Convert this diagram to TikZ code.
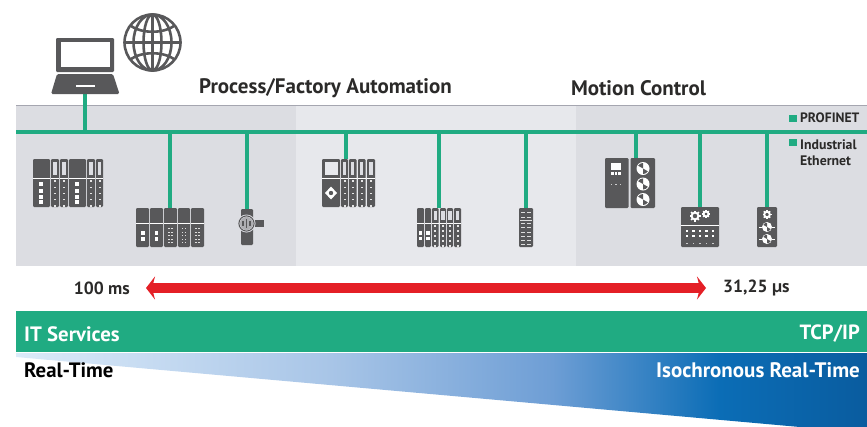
\documentclass[tikz,border=0pt]{standalone}
\usepackage{fontspec}
\setmainfont{PT Sans}
\usetikzlibrary{arrows.meta,calc}
\definecolor{bandA}{HTML}{DCDDE2}
\definecolor{bandB}{HTML}{E7E8EC}
\definecolor{edgeC}{HTML}{A5A6B0}
\definecolor{busC}{HTML}{20AB82}
\definecolor{devC}{HTML}{58585A}
\definecolor{arrC}{HTML}{E41F26}
\definecolor{txtC}{HTML}{2B2A29}
\definecolor{g1}{HTML}{DCEBF9}
\definecolor{g2}{HTML}{A8C5E7}
\definecolor{g3}{HTML}{6E9ED5}
\definecolor{g4}{HTML}{0B6DB6}
\definecolor{g5}{HTML}{0A5C9F}
\pgfdeclarehorizontalshading{wedgeshade}{100bp}{color(0bp)=(g1);color(25bp)=(g1);color(43.5bp)=(g2);color(56.5bp)=(g3);color(66.3bp)=(g4);color(75bp)=(g5);color(100bp)=(g5)}
\tikzset{
  bus/.style={draw=busC,line width=3.6pt},
  link/.style={draw=busC,line width=3.2pt},
  devbox/.style={inner sep=0pt,outer sep=0pt,rectangle},
  mod/.style={fill=devC,rounded corners=1.2pt},
  lab/.style={font=\bfseries,text=txtC,inner sep=0pt},
  wlab/.style={font=\bfseries,text=white,inner sep=0pt},
  legend/.style={fill=busC,inner sep=0pt,minimum size=7.5pt},
}
% module with a solid top and a separator
\newcommand{\plainmod}[5]{%
  \fill[mod] (#1,#3) rectangle (#2,#5);
  \draw[white,line width=.6pt] (#1,#4) -- (#2,#4);}
% narrow module: slot on top, dots below
\newcommand{\slotmod}[5]{%
  \plainmod{#1}{#2}{#3}{#4}{#5}
  \pgfmathsetmacro{\cxx}{(#1+#2)/2}
  \pgfmathsetmacro{\dyy}{(#5-#4-4)/4}
  \fill[bandA] (\cxx-1.6,#3+3) rectangle (\cxx+1.6,#4-3);
  \foreach \i in {0,...,4} {\fill[white!85!devC] (\cxx-1,#4+3+\i*\dyy-.7) rectangle (\cxx+1,#4+3+\i*\dyy+.7);}}
\newcommand{\wsq}[3]{\fill[white] (#1-#3,#2-#3) rectangle (#1+#3,#2+#3);}
\newcommand{\motorsym}[3]{%
  \fill[white] (#1,#2) circle (#3);
  \fill[devC] (#1,#2) -- ++(30:#3*.85) arc (30:90:#3*.85) -- cycle;
  \fill[devC] (#1,#2) -- ++(210:#3*.85) arc (210:270:#3*.85) -- cycle;}
\newcommand{\gearsym}[3]{%
  \foreach \a in {0,45,...,315} {\draw[white,line width=1.5pt] (#1,#2) ++(\a:#3*.6) -- ++(\a:#3*.4);}
  \draw[white,line width=1.9pt] (#1,#2) circle (#3*.62);}
\begin{document}
\begin{tikzpicture}[x=1pt,y=-1pt]
\useasboundingbox (0,0) rectangle (867,426);
% bands
\fill[bandA] (16,105) rectangle (296,266);
\fill[bandB] (296,105) rectangle (576,266);
\fill[bandA] (576,105) rectangle (867,266);
\draw[edgeC,line width=1pt] (16,105.5) -- (867,105.5);
% bus
\coordinate (busL) at (16,132);
\coordinate (busR) at (867,132);
\draw[bus] (busL) -- (busR);
% device anchors
\node[devbox,minimum width=68pt,minimum height=22pt] (laptop) at (85,83) {};
\node[devbox,minimum width=70pt,minimum height=48pt] (dev1) at (68,183) {};
\node[devbox,minimum width=68pt,minimum height=39pt] (dev2) at (170,227.5) {};
\node[devbox,minimum width=12pt,minimum height=36pt] (dev3) at (247,227) {};
\node[devbox,minimum width=53pt,minimum height=48pt] (dev4) at (348.5,183) {};
\node[devbox,minimum width=44pt,minimum height=39pt] (dev5) at (439,227.5) {};
\node[devbox,minimum width=14pt,minimum height=39pt] (dev6) at (526,227.5) {};
\node[devbox,minimum width=50pt,minimum height=50pt] (dev7) at (630,183) {};
\node[devbox,minimum width=38pt,minimum height=40pt] (dev8) at (700,227) {};
\node[devbox,minimum width=20pt,minimum height=40pt] (dev9) at (767,227) {};
% taps and links
\coordinate (ta) at (85,132);
\coordinate (tb) at (170,132);
\coordinate (tc) at (247,132);
\coordinate (td) at (346,132);
\coordinate (te) at (439,132);
\coordinate (tf) at (526,132);
\coordinate (tg) at (636,132);
\coordinate (th) at (700,132);
\coordinate (ti) at (767,132);
\draw[link] (ta) -- (ta |- laptop.south);
\draw[link] (tb) -- (tb |- dev2.north);
\draw[link] (tc) -- (tc |- dev3.north);
\draw[link] (td) -- (td |- dev4.north);
\draw[link] (te) -- (te |- dev5.north);
\draw[link] (tf) -- (tf |- dev6.north);
\draw[link] (tg) -- (tg |- dev7.north);
\draw[link] (th) -- (th |- dev8.north);
\draw[link] (ti) -- (ti |- dev9.north);
% laptop
\fill[devC,rounded corners=1.2pt] (56,38) rectangle (114,72);
\fill[white] (61,42) rectangle (110,67);
\fill[devC,rounded corners=1.5pt] (57,74) -- (113,74) -- (119.5,94) -- (51,94) -- cycle;
\fill[white] (76,85.2) rectangle (95,87.2);
% globe
\begin{scope}[devC,line width=2.6pt]
\draw (152.5,42.5) circle (28);
\draw (152.5,14.5) -- (152.5,70.5);
\draw (124.5,42.5) -- (180.5,42.5);
\draw (152.5,42.5) ellipse (9 and 28);
\draw (152.5,42.5) ellipse (19 and 28);
\draw (130,25) .. controls (140,34) and (165,34) .. (175,25);
\draw (130,60) .. controls (140,51) and (165,51) .. (175,60);
\end{scope}
% dev1
\foreach \a/\b in {33/50,69/86}{
  \plainmod{\a}{\b}{159}{178}{207}
  \pgfmathsetmacro{\mx}{(\a+\b)/2}
  \foreach \yy in {184,190.5,196.5,202} {\wsq{\mx-.5}{\yy}{2}}
}
\foreach \a/\b in {51/59,60/68,87/95,96/103} {\slotmod{\a}{\b}{159}{178}{207}}
% dev2
\foreach \a/\b in {136/149,150/163,164/177,178/190,191/204} {\plainmod{\a}{\b}{208}{223}{247}}
\foreach \x in {143,156.5}{\wsq{\x}{233}{1.7}\wsq{\x}{239}{1.7}}
\foreach \x in {170.5,184,197.5} {\foreach \i in {0,...,4}{
  \fill[white!80!devC] (\x-2.4,228+\i*3.6) rectangle (\x-.9,229+\i*3.6);
  \fill[white!80!devC] (\x+.9,228+\i*3.6) rectangle (\x+2.4,229+\i*3.6);}}
% dev3 sensor
\fill[mod] (241,209) rectangle (253,245);
\fill[devC] (253,220) rectangle (264,227);
\fill[bandA] (246.5,223.5) circle (9);
\draw[devC,line width=1pt] (246.5,223.5) circle (7.6);
\fill[devC!35!bandA] (246.5,223.5) circle (6.6);
\fill[devC] (245.6,219) rectangle (247.4,228);
\fill[devC] (242,220.5) rectangle (244.4,226);
\fill[devC] (248.6,220.5) rectangle (251,226);
% dev4
\plainmod{322}{340}{159}{178}{207}
\fill[bandB] (325,162) rectangle (337.5,175);
\fill[white] (331,186.5) -- (337,193) -- (331,199.5) -- (325,193) -- cycle;
\fill[devC] (331,193) circle (2.2);
\foreach \a/\b in {341/348,349/356.5,358/365.5,367/375} {\slotmod{\a}{\b}{159}{178}{207}}
% dev5
\foreach \a/\b in {417/424,425/431} {\plainmod{\a}{\b}{208}{223}{247}}
\foreach \x in {420.5,428}{\wsq{\x}{233}{1.7}\wsq{\x}{238.5}{1.7}}
\foreach \a/\b in {432/438.5,440/446,447/453,454/461} {\slotmod{\a}{\b}{208}{223}{247}}
% dev6
\fill[mod] (519,208) rectangle (533,247);
\foreach \y in {212,216.5,223,227,232,236,240,243.5}{
  \fill[white!80!devC] (521,\y) rectangle (525,\y+1.2);
  \fill[white!80!devC] (527,\y) rectangle (531,\y+1.2);}
\draw[white!80!devC,line width=.5pt] (520,220.5) -- (532,220.5);
% dev7
\fill[mod] (605,158) rectangle (628.5,208);
\fill[mod] (630.5,158) rectangle (655,208);
\fill[white] (611,163) rectangle (621,170);
\foreach \x in {612.5,616,619.5} {\wsq{\x}{173.5}{1.3}}
\foreach \x in {611.5,616,620.5} {\fill[white!70!devC] (\x-.7,183.5) rectangle (\x+.7,184.5);}
\foreach \y in {168.5,184,199.5} {\motorsym{643}{\y}{6.5}}
% dev8
\plainmod{681}{719}{207}{225}{247}
\gearsym{695}{216}{5.5}
\gearsym{706}{214}{4}
\foreach \x in {687,693.5,700,706.5,713}{\wsq{\x}{231}{1.4}\wsq{\x}{236}{1.4}
  \fill[white!70!devC] (\x-.6,242.5) rectangle (\x+.6,243.5);}
% dev9
\fill[mod] (757,207) rectangle (777,247);
\gearsym{767}{214.5}{4.5}
\foreach \y in {227,239}{\motorsym{767}{\y}{5}
  \draw[white,line width=.5pt] (759,\y) -- (762,\y) (772,\y) -- (775,\y);}
% titles
\node[lab,anchor=center] (title1) at (325.5,88.5) {\fontsize{21}{23}\selectfont Process/Factory Automation};
\node[lab,anchor=center] (title2) at (638.5,88.5) {\fontsize{21}{23}\selectfont Motion Control};
% legend
\node[legend] (sq1) at (793,118.5) {};
\node[legend] (sq2) at (793,142.5) {};
\node[lab,anchor=west] (lg1) at (800,118) {\fontsize{13.6}{15}\selectfont PROFINET};
\node[lab,anchor=west,align=left,font=\bfseries\fontsize{13.8}{15.5}\selectfont] (lg2) at (800,152.5) {Industrial\\Ethernet};
% red arrow
\node[lab,anchor=east] (ms) at (130,288) {\fontsize{17.6}{19}\selectfont 100 ms};
\node[lab,anchor=west] (us) at (723,288) {\fontsize{17.6}{19}\selectfont 31,25 µs};
\coordinate (arrL) at (146,288);
\coordinate (arrR) at (706,288);
\draw[arrC,line width=10pt,{Stealth[length=9pt,width=23pt,inset=3pt]}-{Stealth[length=9pt,width=23pt,inset=3pt]}] (arrL) -- (arrR);
% green band
\fill[busC] (16,311) rectangle (867,352);
\node[wlab,anchor=west] (its) at (24,334) {\fontsize{20.8}{22}\selectfont IT Services};
\node[wlab,anchor=east] (tcp) at (860,334) {\fontsize{20.6}{22}\selectfont TCP/IP};
% wedge
\begin{scope}
\clip (0,0) rectangle (867,426);
\shade[shading=wedgeshade] (16,353) -- (867,353) -- (867,433) -- (16,357) -- cycle;
\end{scope}
\node[lab,anchor=west,text=black] (rt) at (24,370) {\fontsize{20.8}{22}\selectfont Real-Time};
\node[wlab,anchor=east] (irt) at (860,370) {\fontsize{21}{22}\selectfont Isochronous Real-Time};
\end{tikzpicture}
\end{document}
